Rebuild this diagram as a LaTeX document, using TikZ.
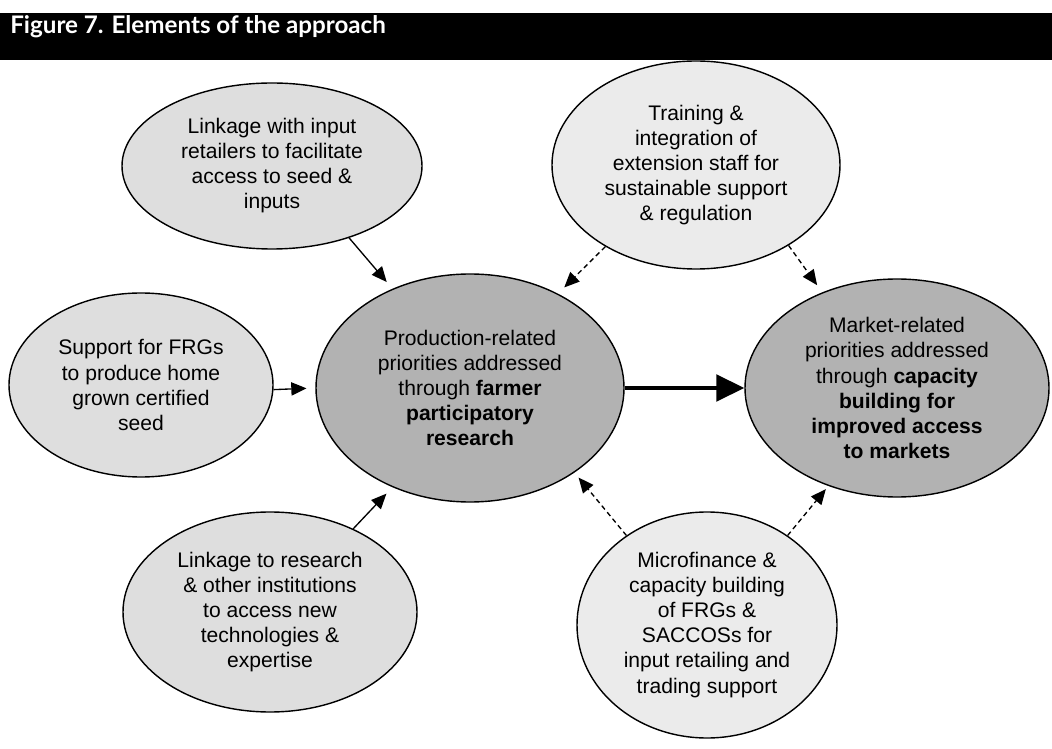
\documentclass[tikz,border=0pt]{standalone}
\usepackage{fontspec}
\setmainfont{Liberation Sans}
\newfontfamily\headfont{Lato}
\usetikzlibrary{arrows.meta,shapes.geometric}
\definecolor{pale}{gray}{0.92}
\definecolor{mist}{gray}{0.87}
\definecolor{slate}{gray}{0.70}
\tikzset{
  >={Triangle[length=3.8mm,width=3.3mm]},
  idea/.style={ellipse,draw=black,line width=1pt,fill=#1,inner sep=0pt,
    align=center,font=\fontsize{15}{17.8}\selectfont},
  idea/.default=mist,
  feed/.style={->,line width=0.95pt,shorten >=#1},
  feed/.default=2.2mm,
  soft/.style={feed=#1,dash pattern=on 3.5pt off 2.5pt},
  soft/.default=2.2mm,
  % heading band
  band/.style={anchor=base west,inner sep=0pt,text=white,
    font=\headfont\bfseries\fontsize{17.2}{20}\selectfont},
}
\begin{document}
\begin{tikzpicture}
  \useasboundingbox (0,0) rectangle (26.3,18.7);
  \fill[black] (0,17.2) rectangle (26.3,18.375);
  \node[band] (title) at (0.25,17.87) {Figure 7. Elements of the approach};
  % outer elements
  \node[idea,minimum width=7.5cm,minimum height=4.15cm] (lin) at (6.8,14.55) {Linkage with input\\retailers to facilitate\\access to seed \&\\inputs};
  \node[idea=pale,minimum width=7.2cm,minimum height=5.2cm] (trn) at (17.4,14.575) {Training \&\\integration of\\extension staff for\\sustainable support\\\& regulation};
  \node[idea,minimum width=6.6cm,minimum height=4.6cm] (sup) at (3.525,9.075) {Support for FRGs\\to produce home\\grown certified\\seed};
  \node[idea,minimum width=7.35cm,minimum height=5cm] (res) at (6.75,3.4) {Linkage to research\\\& other institutions\\to access new\\technologies \&\\expertise};
  \node[idea=pale,minimum width=6.5cm,minimum height=5.65cm] (mic) at (17.675,3.075) {Microfinance \&\\capacity building\\of FRGs \&\\SACCOSs for\\input retailing and\\trading support};
  % the two priorities
  \node[idea=slate,minimum width=7.7cm,minimum height=5.7cm] (prod) at (11.75,9.0) {Production-related\\priorities addressed\\through \textbf{farmer}\\\textbf{participatory}\\\textbf{research}};
  \node[idea=slate,minimum width=7.6cm,minimum height=5.45cm] (mkt) at (22.425,9.0) {Market-related\\priorities addressed\\through \textbf{capacity}\\\textbf{building for}\\\textbf{improved access}\\\textbf{to markets}};
  \draw[feed] (lin.-43) -- (prod.128);
  \draw[feed] (sup.-2) -- (prod.180);
  \draw[feed] (res.45) -- (prod.232);
  \draw[-{Triangle[length=7mm,width=6.6mm]},line width=3pt] (prod.east) -- (mkt.west);
  \foreach \a/\b/\s in {trn.222/prod.47/2.2mm,trn.-41/mkt.128/2.2mm,mic.132/prod.-39/1.6mm,mic.48/mkt.235/1mm}
    \draw[soft=\s] (\a) -- (\b);
\end{tikzpicture}
\end{document}
